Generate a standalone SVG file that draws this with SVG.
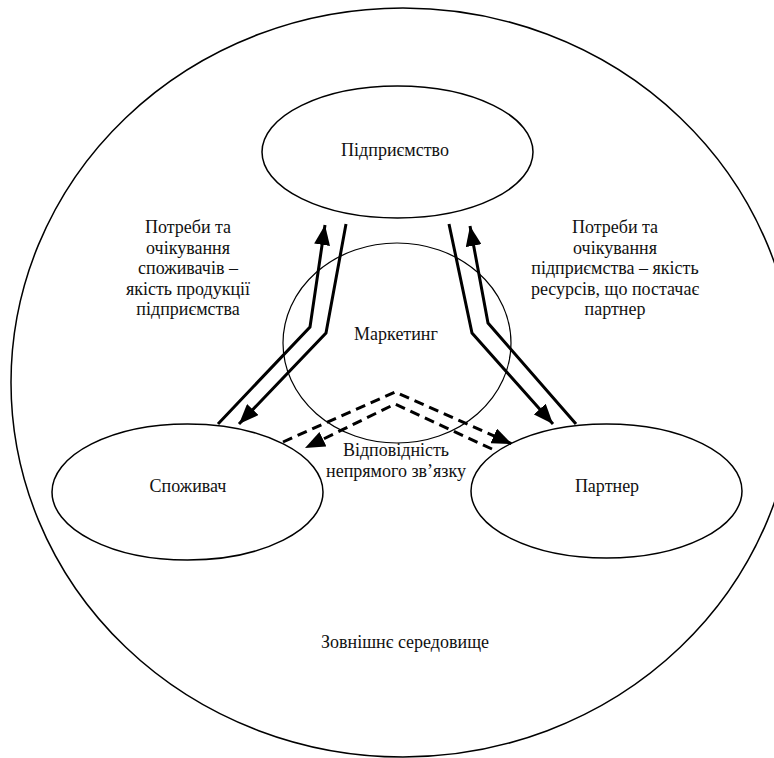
<svg xmlns="http://www.w3.org/2000/svg" width="774" height="758" viewBox="0 0 774 758">
<style>
.n{fill:none;stroke:#000;stroke-width:1.5}
.m{fill:none;stroke:#000;stroke-width:1.2}
.t{font-family:"Liberation Serif","Times New Roman",serif;font-size:18px;fill:#111;text-anchor:middle}
.c{fill:none;stroke:#000;stroke-width:3;stroke-linejoin:miter}
.d{fill:none;stroke:#000;stroke-width:3;stroke-dasharray:10 6}
</style>
<defs>
<marker id="ah" markerUnits="userSpaceOnUse" markerWidth="22" markerHeight="16" refX="20" refY="8" orient="auto">
<path d="M0,0 L20,8 L0,16 Z" fill="#000"/>
</marker>
</defs>
<rect width="774" height="758" fill="#fff"/>
<g id="environment">
<ellipse class="n" cx="403" cy="382.5" rx="392" ry="374.5"/>
<text class="t" x="405" y="648">Зовнішнє середовище</text>
</g>
<g id="marketing">
<ellipse class="m" cx="397" cy="343" rx="114" ry="100"/>
<text class="t" x="396" y="340">Маркетинг</text>
</g>
<g id="enterprise">
<ellipse class="n" cx="397.5" cy="152" rx="135.5" ry="66"/>
<text class="t" x="395" y="156">Підприємство</text>
</g>
<g id="consumer">
<ellipse class="n" cx="187.5" cy="492" rx="135.5" ry="68"/>
<text class="t" x="188" y="492">Споживач</text>
</g>
<g id="partner">
<ellipse class="n" cx="606.5" cy="491" rx="135.5" ry="67"/>
<text class="t" x="607" y="492">Партнер</text>
</g>
<g id="connectors">
<polyline class="c" points="218,424 310,327 325,225" marker-end="url(#ah)"/>
<polyline class="c" points="346,224 326,333 239,424" marker-end="url(#ah)"/>
<polyline class="c" points="449,224 472,333 553,424" marker-end="url(#ah)"/>
<polyline class="c" points="576,424 488,323 470,226" marker-end="url(#ah)"/>
<polyline class="d" points="283,442 395,392 512,444" marker-end="url(#ah)"/>
<polyline class="d" points="492,449 395,404 305,448" marker-end="url(#ah)"/>
</g>
<g id="labels">
<text class="t" x="188" y="233">Потреби та</text>
<text class="t" x="188" y="253.5">очікування</text>
<text class="t" x="188" y="274">споживачів –</text>
<text class="t" x="188" y="294.5">якість продукції</text>
<text class="t" x="188" y="315">підприємства</text>
<text class="t" x="615" y="233">Потреби та</text>
<text class="t" x="615" y="253.5">очікування</text>
<text class="t" x="615" y="274">підприємства – якість</text>
<text class="t" x="615" y="294.5">ресурсів, що постачає</text>
<text class="t" x="615" y="315">партнер</text>
<text class="t" x="396" y="456">Відповідність</text>
<text class="t" x="396" y="477">непрямого зв’язку</text>
</g>
</svg>
